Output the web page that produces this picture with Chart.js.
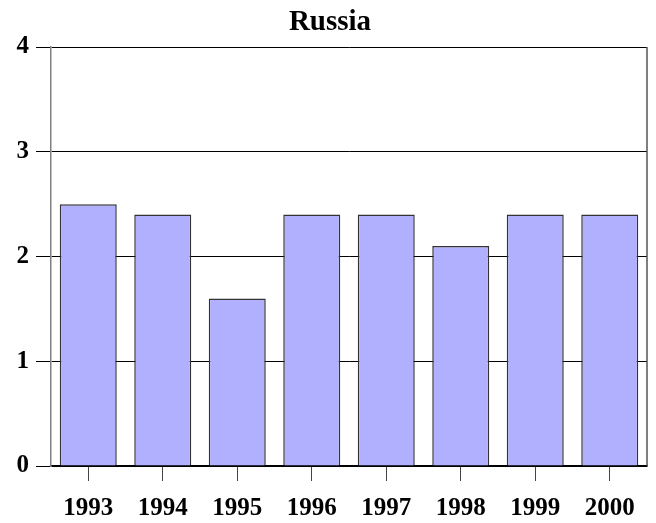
<!DOCTYPE html>
<html>
<head>
<meta charset="utf-8">
<script src="https://cdn.jsdelivr.net/npm/chart.js@4.4.0/dist/chart.umd.min.js"></script>
<style>
  html, body { margin: 0; padding: 0; background: #fff; }
  #wrap { width: 656px; height: 523px; }
</style>
</head>
<body>
<div id="wrap"><canvas id="myChart" width="656" height="523"></canvas></div>
<script>
    var years = ["1993", "1994", "1995", "1996", "1997", "1998", "1999", "2000"];
    var russiaValues = [2.5, 2.4, 1.6, 2.4, 2.4, 2.1, 2.4, 2.4];
    var yTicks = [0, 1, 2, 3, 4];

    var serif = "'Liberation Serif', 'Times New Roman', serif";

    // right edge of the plot frame
    var frameBorder = {
      id: "frameBorder",
      afterDraw: function(chart) {
        var a = chart.chartArea;
        var ctx = chart.ctx;
        ctx.save();
        ctx.strokeStyle = "#555";
        ctx.lineWidth = 1.5;
        ctx.beginPath();
        ctx.moveTo(a.right, a.top);
        ctx.lineTo(a.right, a.bottom);
        ctx.stroke();
        ctx.restore();
      }
    };

    var config = {
      type: "bar",
      data: {
        labels: years,
        datasets: [{
          label: "Russia",
          data: russiaValues,
          backgroundColor: "#b0b0ff",
          borderColor: "#333",
          borderWidth: 1.5,
          barPercentage: 0.765,
          categoryPercentage: 1.0
        }]
      },
      options: {
        responsive: false,
        animation: false,
        layout: { padding: { left: 13, right: 9, top: 0, bottom: 0 } },
        plugins: {
          legend: { display: false },
          tooltip: { enabled: false },
          title: {
            display: true,
            text: "Russia",
            color: "#000",
            font: { family: serif, size: 29, weight: "bold" },
            padding: { top: 5, bottom: 7.2 }
          }
        },
        scales: {
          x: {
            grid: {
              offset: false,
              drawOnChartArea: false,
              drawTicks: true,
              tickLength: 15,
              color: "#444"
            },
            border: { color: "#000", width: 1.5 },
            ticks: {
              color: "#000",
              padding: 13,
              font: { family: serif, size: 25, weight: "bold" }
            },
            afterFit: function(scale) { scale.height = 57; }
          },
          y: {
            min: 0,
            max: 4,
            afterBuildTicks: function(scale) {
              scale.ticks = yTicks.map(function(v) { return { value: v }; });
            },
            grid: {
              color: "#000",
              lineWidth: 1,
              tickLength: 15
            },
            border: { color: "#808080", width: 1.5 },
            ticks: {
              color: "#000",
              padding: 7,
              font: { family: serif, size: 25, weight: "bold" }
            },
            afterFit: function(scale) { scale.width = 38; }
          }
        }
      },
      plugins: [frameBorder]
    };

    var ctx = document.getElementById("myChart");
    window.russiaChart = new Chart(ctx, config);
</script>
</body>
</html>
